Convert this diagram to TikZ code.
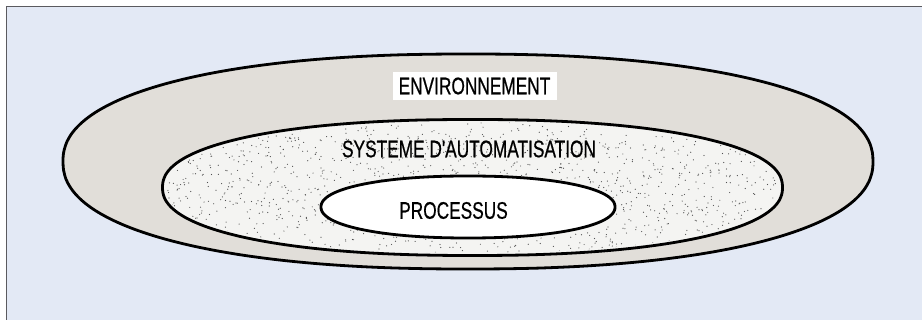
\documentclass[tikz,border=0pt]{standalone}
\usepackage{fontspec}
\setmainfont{Liberation Sans}
\newfontfamily\condfont[FakeStretch=0.72, FakeBold=0.6]{Liberation Sans}
\definecolor{bgblue}{RGB}{227,233,245}
\definecolor{envfill}{RGB}{225,222,217}
\definecolor{sysfill}{RGB}{244,244,242}
\definecolor{framecol}{RGB}{90,90,95}
\definecolor{dotcol}{RGB}{80,80,80}
\tikzset{
  ring/.style={draw=black, line width=2.8pt},
  lbl/.style={font=\condfont\fontsize{24}{24}\selectfont, text=black, inner sep=0pt},
}
\newcommand{\superell}[5]{% cx cy a b n
  plot[domain=0.5:360.5, samples=181, smooth] ({#1+#3*sign(cos(\x))*pow(abs(cos(\x)),2/#5)}, {#2+#4*sign(sin(\x))*pow(abs(sin(\x)),2/#5)}) -- cycle}
\begin{document}
\begin{tikzpicture}[x=1pt, y=-1pt]
\useasboundingbox (0,0) rectangle (922,320);
\fill[white] (0,0) rectangle (922,320);
\fill[bgblue] (7,7) rectangle (922,320);
\draw[framecol, line width=1.3pt] (6.5,320) -- (6.5,6.8) -- (922,6.8);
% environment
\path[ring, fill=envfill] \superell{468}{161.5}{405}{107.5}{2.25};
% automation system
\path[ring, fill=sysfill] \superell{472.5}{187.5}{310}{68}{2.25};
\begin{scope}
\clip \superell{472.5}{187.5}{307}{65}{2.25};
\pgfmathsetseed{11}
\foreach \i in {1,...,1600} {
  \pgfmathsetmacro\px{472.5+310*(rnd*2-1)}
  \pgfmathsetmacro\py{187.5+68*(rnd*2-1)}
  \fill[dotcol] (\px,\py) circle (0.6pt);
}
\end{scope}
% process
\path[ring, fill=white] \superell{468}{207}{147}{31}{2.15};
% labels
\node[lbl, fill=white, minimum width=164pt, minimum height=28pt] (env) at (474.5,86) {ENVIRONNEMENT};
\node[lbl] (sys) at (469,149) {SYSTEME D'AUTOMATISATION};
\node[lbl] (proc) at (453.5,210.5) {PROCESSUS};
\end{tikzpicture}
\end{document}
